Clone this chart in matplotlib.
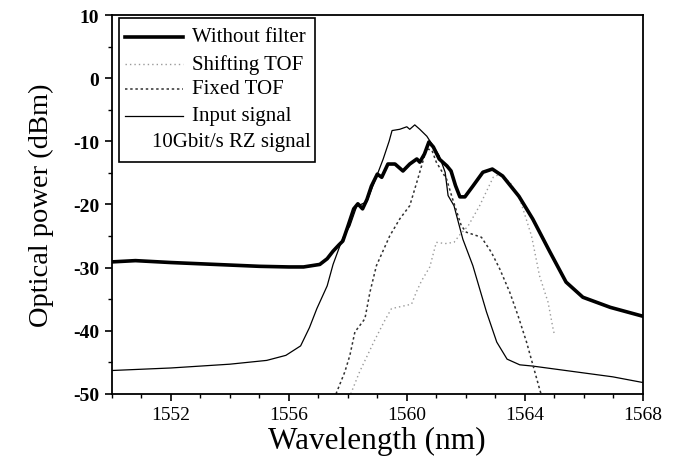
import matplotlib
matplotlib.use("Agg")
import matplotlib.pyplot as plt
from matplotlib.patches import Rectangle
from matplotlib.lines import Line2D
from matplotlib.ticker import MultipleLocator

plt.rcParams['font.family'] = ['Liberation Serif', 'DejaVu Serif']
plt.rcParams['axes.unicode_minus'] = False

# --- data ---
wl_nofilter = [1550.0, 1550.8, 1552.0, 1553.5, 1555.0, 1556.0, 1556.5, 1557.05, 1557.3, 1557.5,
               1557.7, 1557.83, 1558.0, 1558.2, 1558.34, 1558.5, 1558.65, 1558.8, 1559.0, 1559.15,
               1559.36, 1559.6, 1559.87, 1560.1, 1560.34, 1560.44, 1560.6, 1560.75, 1560.9, 1561.1,
               1561.36, 1561.5, 1561.65, 1561.8, 1561.97, 1562.24, 1562.58, 1562.9, 1563.25, 1563.8,
               1564.27, 1564.85, 1565.4, 1565.97, 1566.9, 1568.0]
p_nofilter = [-29.1, -28.9, -29.2, -29.5, -29.8, -29.9, -29.9, -29.5, -28.6, -27.4,
              -26.4, -25.8, -23.5, -20.7, -19.9, -20.7, -19.2, -17.1, -15.2, -15.7,
              -13.6, -13.6, -14.7, -13.6, -12.8, -13.3, -12.0, -10.1, -10.9, -12.8,
              -13.9, -14.7, -17.0, -18.8, -18.8, -17.1, -14.9, -14.4, -15.5, -18.7,
              -22.3, -27.5, -32.3, -34.7, -36.3, -37.7]

wl_shift = [1558.1, 1558.4, 1558.9, 1559.25, 1559.48, 1560.16, 1560.33, 1560.5, 1560.78, 1561.0,
            1561.3, 1561.6, 1561.8, 1562.08, 1562.47, 1562.93, 1563.15, 1563.5, 1563.83, 1564.23,
            1564.5, 1564.79, 1564.96, 1565.0]
p_shift = [-50.0, -46.5, -41.6, -38.4, -36.5, -35.8, -33.8, -32.1, -29.9, -26.0,
           -26.2, -26.0, -24.8, -23.4, -20.2, -15.7, -15.2, -16.5, -19.1, -25.0,
           -31.3, -35.5, -39.7, -40.5]

wl_fixed = [1557.6, 1557.9, 1558.07, 1558.24, 1558.58, 1558.75, 1558.97, 1559.42, 1559.76, 1560.1,
            1560.37, 1560.67, 1560.85, 1561.0, 1561.35, 1561.55, 1561.85, 1562.02, 1562.53, 1562.87,
            1563.15, 1563.49, 1563.77, 1564.06, 1564.28, 1564.5, 1564.55]
p_fixed = [-50.0, -46.5, -43.9, -40.2, -38.1, -33.9, -29.7, -25.0, -22.3, -20.2,
           -16.0, -11.2, -11.4, -13.3, -16.0, -19.1, -23.4, -24.4, -25.2, -27.6,
           -30.2, -33.9, -37.6, -41.8, -45.5, -49.2, -50.0]

wl_input = [1550.0, 1552.0, 1554.0, 1555.25, 1555.9, 1556.4, 1556.7, 1556.95, 1557.3, 1557.5,
            1557.83, 1558.07, 1558.3, 1558.64, 1558.98, 1559.2, 1559.4, 1559.5, 1559.76, 1560.0,
            1560.1, 1560.27, 1560.44, 1560.68, 1560.9, 1561.1, 1561.3, 1561.4, 1561.6, 1561.9,
            1562.24, 1562.7, 1563.05, 1563.4, 1563.83, 1564.27, 1566.98, 1568.0]
p_input = [-46.3, -45.9, -45.3, -44.7, -43.9, -42.4, -39.5, -36.5, -32.9, -29.5,
           -25.3, -23.4, -20.3, -19.6, -15.5, -12.8, -10.0, -8.3, -8.1, -7.7,
           -8.1, -7.4, -8.1, -9.2, -10.8, -12.3, -14.9, -18.6, -20.2, -25.5,
           -29.7, -37.0, -41.8, -44.5, -45.4, -45.6, -47.3, -48.2]

legend_labels = ["Without filter", "Shifting TOF", "Fixed TOF", "Input signal"]
legend_note = "10Gbit/s RZ signal"
xlabel = "Wavelength (nm)"
ylabel = "Optical power (dBm)"

# --- figure ---
fig = plt.figure(figsize=(6.78, 4.64), dpi=100)
ax = fig.add_axes([0.165, 0.149, 0.783, 0.8165])

st_nof = dict(color='black', lw=2.6, ls='-')
st_shift = dict(color='#9a9a9a', lw=1.0, ls=(0, (1, 2.2)))
st_fixed = dict(color='#303030', lw=1.1, ls=(0, (1.6, 1.8)))
st_input = dict(color='black', lw=0.9, ls='-')

ax.plot(wl_input, p_input, **st_input)
ax.plot(wl_shift, p_shift, **st_shift)
ax.plot(wl_fixed, p_fixed, **st_fixed)
ax.plot(wl_nofilter, p_nofilter, **st_nof)

ax.set_xlim(1550, 1568)
ax.set_ylim(-50, 10)
ax.xaxis.set_major_locator(MultipleLocator(4))
ax.xaxis.set_minor_locator(MultipleLocator(1))
ax.yaxis.set_major_locator(MultipleLocator(10))
ax.yaxis.set_minor_locator(MultipleLocator(5))
ax.set_xticks([1552, 1556, 1560, 1564, 1568])
ax.tick_params(which='major', direction='out', length=5, width=1.2, labelsize=14, pad=4)
ax.tick_params(which='minor', direction='out', length=3, width=1.0)
for lab in ax.get_yticklabels():
    lab.set_fontweight('bold')
for s in ax.spines.values():
    s.set_linewidth(1.3)

ax.set_xlabel(xlabel, fontsize=22.5, labelpad=2)
ax.set_ylabel(ylabel, fontsize=20.5, labelpad=14)

# --- legend box ---
tr = ax.transAxes
ax.add_patch(Rectangle((0.013, 0.612), 0.369, 0.380, transform=tr, fill=False,
                       lw=1.2, ec='black', zorder=5))
rows = [0.942, 0.871, 0.805, 0.734]
styles = [st_nof, st_shift, st_fixed, st_input]
for yy, lab, st in zip(rows, legend_labels, styles):
    ax.add_line(Line2D([0.0245, 0.134], [yy, yy], transform=tr, zorder=6, **st))
    ax.text(0.151, yy, lab, transform=tr, fontsize=15, va='center', ha='left', zorder=6)
ax.text(0.075, 0.665, legend_note, transform=tr, fontsize=15, va='center', ha='left', zorder=6)

fig.savefig("out.png", dpi=100)
